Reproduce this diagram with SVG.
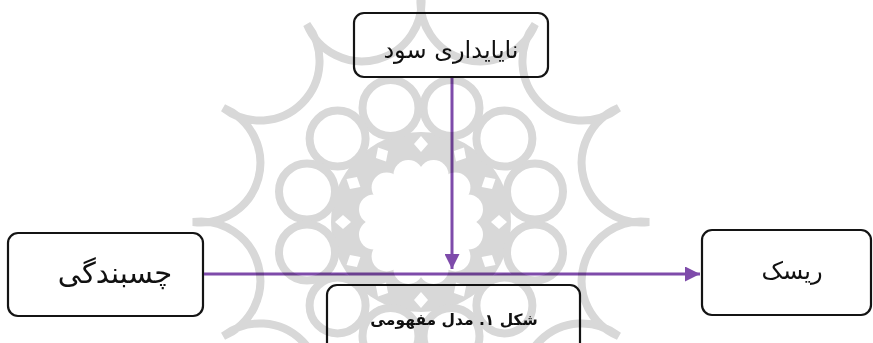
<svg xmlns="http://www.w3.org/2000/svg" width="873" height="343" viewBox="0 0 873 343">
  <style>
    .box { fill: none; stroke: #141414; stroke-width: 2.2; }
    .lbl { font-family: "DejaVu Sans", "Noto Sans", sans-serif; fill: #111; text-anchor: middle; }
    .cap { font-family: "DejaVu Sans", "Noto Sans", sans-serif; font-size: 15.5px; font-weight: bold; fill: #111; text-anchor: middle; }
    .link { stroke: #7E4BAA; stroke-width: 3; fill: none; }
    .orn { stroke: #d8d8d8; stroke-width: 8; fill: none; }
  </style>
  <defs>
    <marker id="head" viewBox="0 0 10 10" refX="10" refY="5" markerWidth="5" markerHeight="5" markerUnits="strokeWidth" orient="auto">
      <path d="M0,0 L10,5 L0,10 Z" fill="#7E4BAA"/>
    </marker>
  </defs>

  <rect width="873" height="343" fill="#ffffff"/>

  <!-- nodes -->
  <g id="node-instability">
    <rect class="box" x="354" y="13" width="194" height="64" rx="10"/>
    <text class="lbl" x="451" y="58" font-size="24">نایایداری سود</text>
  </g>
  <g id="node-stickiness">
    <rect class="box" x="8" y="233" width="195" height="83" rx="10"/>
    <text class="lbl" x="115" y="283" font-size="29">چسبندگی</text>
  </g>
  <g id="node-risk">
    <rect class="box" x="702" y="230" width="169" height="85" rx="10"/>
    <text class="lbl" x="792" y="279" font-size="24">ریسک</text>
  </g>
  <g id="node-caption">
    <rect class="box" x="327" y="285" width="253" height="70" rx="10"/>
    <text class="cap" x="454" y="325">شکل ۱. مدل مفهومی</text>
  </g>

  <!-- connectors -->
  <g id="connectors">
    <line class="link" x1="204" y1="274" x2="700" y2="274" marker-end="url(#head)"/>
    <line class="link" x1="452" y1="78" x2="452" y2="269" marker-end="url(#head)"/>
  </g>

  <!-- rosette ornament in the background -->
  <g id="ornament" style="mix-blend-mode:multiply">
    <path class="orn" d="M649,222 A59.5,59.5 0 0,1 618.5,108 A59.5,59.5 0 0,1 535,24.5 A59.5,59.5 0 0,1 421,-6 A59.5,59.5 0 0,1 307,24.5 A59.5,59.5 0 0,1 223.5,108 A59.5,59.5 0 0,1 193,222 A59.5,59.5 0 0,1 223.5,336 A59.5,59.5 0 0,1 307,419.5 A59.5,59.5 0 0,1 421,450 A59.5,59.5 0 0,1 535,419.5 A59.5,59.5 0 0,1 618.5,336 A59.5,59.5 0 0,1 649,222 Z"/>
    <circle cx="421" cy="222" r="90" fill="#d8d8d8"/>
    <g fill="#ffffff" stroke="#d8d8d8" stroke-width="8" transform="translate(421,222)">
      <circle cx="114" cy="-30.5" r="28"/>
      <circle cx="83.4" cy="-83.4" r="28"/>
      <circle cx="30.5" cy="-114" r="28"/>
      <circle cx="-30.5" cy="-114" r="28"/>
      <circle cx="-83.4" cy="-83.4" r="28"/>
      <circle cx="-114" cy="-30.5" r="28"/>
      <circle cx="-114" cy="30.5" r="28"/>
      <circle cx="-83.4" cy="83.4" r="28"/>
      <circle cx="-30.5" cy="114" r="28"/>
      <circle cx="30.5" cy="114" r="28"/>
      <circle cx="83.4" cy="83.4" r="28"/>
      <circle cx="114" cy="30.5" r="28"/>
    </g>
    <g fill="#ffffff">
      <circle cx="421" cy="222" r="44"/>
      <circle cx="468" cy="209.4" r="15"/>
      <circle cx="455.4" cy="187.6" r="15"/>
      <circle cx="433.6" cy="175" r="15"/>
      <circle cx="408.4" cy="175" r="15"/>
      <circle cx="386.6" cy="187.6" r="15"/>
      <circle cx="374" cy="209.4" r="15"/>
      <circle cx="374" cy="234.6" r="15"/>
      <circle cx="386.6" cy="256.4" r="15"/>
      <circle cx="408.4" cy="269" r="15"/>
      <circle cx="433.6" cy="269" r="15"/>
      <circle cx="455.4" cy="256.4" r="15"/>
      <circle cx="468" cy="234.6" r="15"/>
      <g transform="translate(421,222)">
        <path d="M78,-7 L86,0 L78,7 L70,0 Z"/>
        <path d="M78,-7 L86,0 L78,7 L70,0 Z" transform="rotate(30)"/>
        <path d="M78,-7 L86,0 L78,7 L70,0 Z" transform="rotate(60)"/>
        <path d="M78,-7 L86,0 L78,7 L70,0 Z" transform="rotate(90)"/>
        <path d="M78,-7 L86,0 L78,7 L70,0 Z" transform="rotate(120)"/>
        <path d="M78,-7 L86,0 L78,7 L70,0 Z" transform="rotate(150)"/>
        <path d="M78,-7 L86,0 L78,7 L70,0 Z" transform="rotate(180)"/>
        <path d="M78,-7 L86,0 L78,7 L70,0 Z" transform="rotate(210)"/>
        <path d="M78,-7 L86,0 L78,7 L70,0 Z" transform="rotate(240)"/>
        <path d="M78,-7 L86,0 L78,7 L70,0 Z" transform="rotate(270)"/>
        <path d="M78,-7 L86,0 L78,7 L70,0 Z" transform="rotate(300)"/>
        <path d="M78,-7 L86,0 L78,7 L70,0 Z" transform="rotate(330)"/>
      </g>
    </g>
  </g>
</svg>
